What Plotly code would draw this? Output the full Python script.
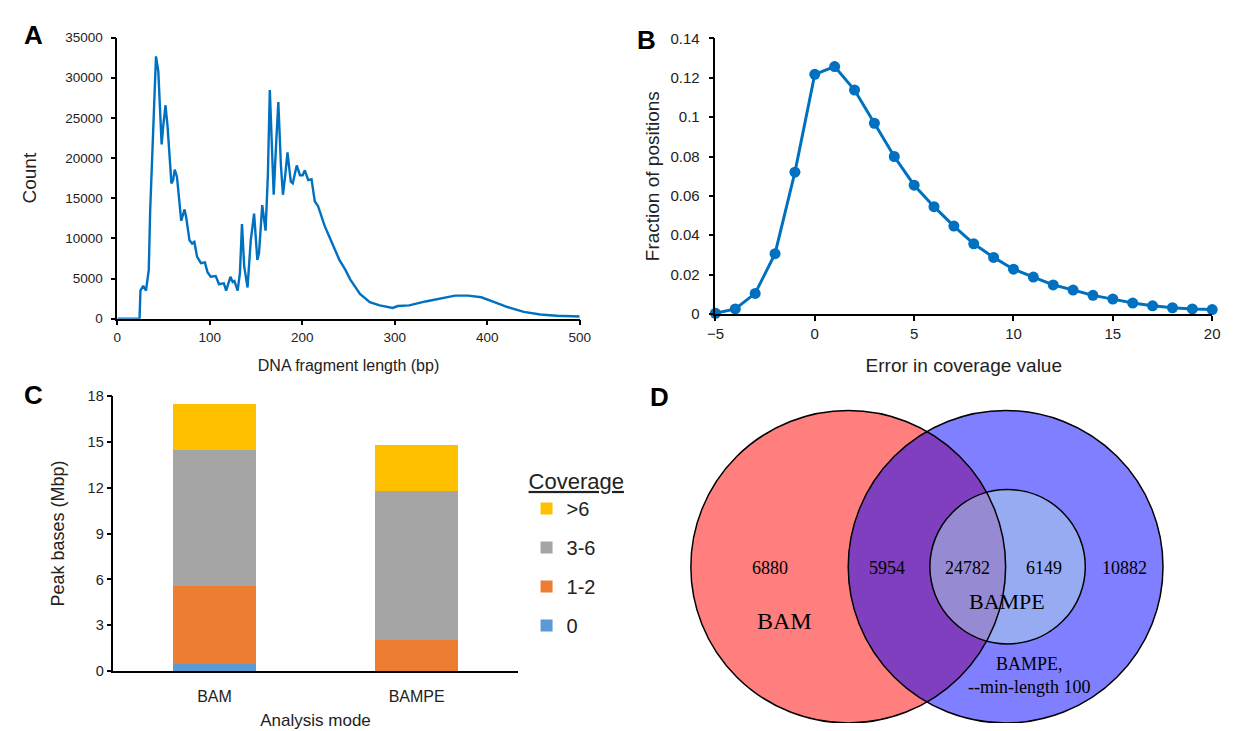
import plotly.graph_objects as go

W, H = 1235, 731          # browser window
OFF = 8                   # default <body> margin of the generated page
FW, FH = W - OFF, H - OFF # figure size so it ends at the window edges

# ---------------- Panel A: fragment length distribution ----------------
frag_len = [0, 10, 20, 24, 25, 28, 31, 34, 35.5, 37, 39, 41.8, 44.3, 47.9, 49.6, 52.1, 54.3,
            58.5, 60.3, 62.1, 64.5, 66.7, 69.1, 72.7, 74.5, 78, 80.9, 83.3, 86.2, 90.4, 94.7,
            97.5, 101, 106.4, 110, 113, 115.2, 117.7, 122.3, 124.8, 126.6, 130.1, 132.6, 134.8,
            137.2, 140.8, 144.3, 147.9, 151.4, 153.2, 156.7, 160.3, 162.8, 164.9, 166.3,
            169.1, 171.6, 174.1, 176.9, 179.1, 181.6, 184, 187.6, 189.7, 194, 197.5, 200.4,
            202.8, 206.4, 210, 213.5, 217.1, 220.6, 224.1, 229.4, 234.8, 240.1, 246.5, 251.8,
            262.4, 273, 283.7, 297.9, 303.2, 315.6, 333.3, 351, 365.2, 379.4, 393.6, 407.8,
            421.9, 439.6, 457.4, 475.2, 500]
frag_count = [0, 0, 0, 0, 3490, 4090, 3490, 6110, 13400, 18260, 26000, 32650, 30820, 21700,
              23940, 26570, 23940, 16850, 17250, 18550, 17650, 14620, 12190, 13610, 12600,
              9760, 9360, 9560, 7740, 6925, 7010, 5800, 5225, 5310, 4290, 4370, 4410, 3490,
              5225, 4580, 4700, 3490, 5710, 11790, 6520, 3890, 9760, 13090, 7330, 8140, 14130,
              10970, 17860, 28470, 23940, 15430, 21500, 26970, 19075, 15430, 17860, 20690,
              17050, 16850, 19075, 17860, 17860, 18470, 17250, 17370, 14620, 14010, 12800,
              11580, 10170, 8750, 7330, 6110, 4900, 3080, 2070, 1660, 1340, 1580, 1660, 2150,
              2550, 2880, 2880, 2670, 2070, 1460, 850, 530, 365, 280]

# ---------------- Panel B: error in coverage ----------------
err_value = list(range(-5, 21))
err_fraction = [0.0003, 0.0025, 0.0104, 0.0306, 0.072, 0.1218, 0.1257, 0.1138, 0.0969,
                0.080, 0.0654, 0.0545, 0.0446, 0.0356, 0.0287, 0.0227, 0.0187, 0.0147,
                0.0121, 0.0094, 0.0075, 0.0055, 0.0041, 0.0031, 0.0025, 0.0022]

# ---------------- Panel C: peak bases by coverage ----------------
modes = ["BAM", "BAMPE"]
coverage_names = ["0", "1-2", "3-6", ">6"]
cov_0 = [0.45, 0.02]
cov_1_2 = [5.15, 2.02]
cov_3_6 = [8.83, 9.73]
cov_gt6 = [3.06, 3.04]
coverage_colors = ["#5B9BD5", "#ED7D31", "#A5A5A5", "#FFC000"]

# ---------------- Panel D: Venn counts ----------------
venn_set_labels = ["BAM", "BAMPE", "BAMPE,<br>--min-length 100"]
venn_counts = [6880, 5954, 24782, 6149, 10882]

SANS = "Liberation Sans, Arial, sans-serif"
SERIF = "Liberation Serif, Times New Roman, serif"
TXT = "#222222"
BLUE = "#0070C0"


def px(x):
    return (x - OFF) / FW


def py(y):
    return 1 - (y - OFF) / FH


fig = go.Figure()

fig.add_trace(go.Scatter(x=frag_len, y=frag_count, mode="lines",
                         line=dict(color=BLUE, width=2.4), showlegend=False,
                         xaxis="x", yaxis="y"))

fig.add_trace(go.Scatter(x=err_value, y=err_fraction, mode="lines+markers",
                         line=dict(color=BLUE, width=3),
                         marker=dict(color=BLUE, size=11), cliponaxis=False,
                         showlegend=False, xaxis="x2", yaxis="y2"))

for i, (name, vals, col) in enumerate(zip(coverage_names, [cov_0, cov_1_2, cov_3_6, cov_gt6],
                                          coverage_colors)):
    fig.add_trace(go.Bar(x=modes, y=vals, name=name,
                         marker=dict(color=col, line=dict(width=0)),
                         legendgroup=name, legendrank=len(coverage_names) - i,
                         xaxis="x3", yaxis="y3"))


def ax(size, **kw):
    d = dict(showgrid=False, zeroline=False, showline=True, linecolor="black",
             linewidth=1.5, ticks="outside", ticklen=5, tickwidth=1.5,
             tickcolor="black", tickfont=dict(family=SANS, size=size, color=TXT))
    d.update(kw)
    return d


def tfont(size):
    return dict(family=SANS, size=size, color=TXT)


layout = dict(
    width=FW, height=FH, autosize=False,
    margin=dict(l=0, r=0, t=0, b=0),
    paper_bgcolor="white", plot_bgcolor="white",
    barmode="stack", bargap=0.586,
    font=dict(family=SANS, color=TXT),
    xaxis=ax(13.5, domain=[px(110), px(580)], range=[0, 500], dtick=100, anchor="y",
             title=dict(text="DNA fragment length (bp)", font=tfont(16), standoff=16)),
    yaxis=ax(13.5, domain=[py(317), py(29)], range=[0, 35000], dtick=5000, anchor="x",
             tickformat="d", ticklabelstandoff=5,
             title=dict(text="Count", font=tfont(19), standoff=24)),
    xaxis2=ax(15, domain=[px(718), px(1223)], range=[-5, 20], dtick=5, anchor="y2",
              title=dict(text="Error in coverage value", font=tfont(19), standoff=18)),
    yaxis2=ax(15, domain=[py(312), py(30)], range=[0, 0.14], dtick=0.02, anchor="x2",
              ticklabelstandoff=6,
              title=dict(text="Fraction of positions", font=tfont(19), standoff=6)),
    xaxis3=ax(16, domain=[px(106), px(517)], ticks="", anchor="y3", ticklabelstandoff=10,
              title=dict(text="Analysis mode", font=tfont(17), standoff=10)),
    yaxis3=ax(14.5, domain=[py(678), py(396)], range=[0, 18], dtick=3, anchor="x3",
              title=dict(text="Peak bases (Mbp)", font=tfont(18), standoff=18)),
    xaxis4=dict(domain=[px(640), 1], range=[640, W], visible=False, anchor="y4"),
    yaxis4=dict(domain=[0, py(380)], range=[H, 380], visible=False, anchor="x4"),
    legend=dict(x=px(526), y=py(462), xanchor="left", yanchor="top",
                title=dict(text="<u>Coverage</u>", font=tfont(22)),
                font=tfont(20), traceorder="grouped", tracegroupgap=10,
                bgcolor="rgba(0,0,0,0)"),
)
fig.update_layout(**layout)

# Panel letters
for letter, (lx, ly) in zip("ABCD", [(25, 26), (648, 32), (25, 395), (661, 397)]):
    fig.add_annotation(text=f"<b>{letter}</b>", x=px(lx), y=py(ly), xref="paper", yref="paper",
                       xanchor="center", yanchor="middle", showarrow=False,
                       font=dict(family=SANS, size=26, color="black"))

# Venn diagram geometry (layout, pixel-space axis x4/y4)
venn_circles = [(853, 571, 160, "rgba(255,0,0,0.5)"),
                (1013, 571, 160, "rgba(0,0,255,0.5)"),
                (1015, 571, 79, "rgba(173,216,230,0.5)")]
shapes = []
for cx, cy, r, fc in venn_circles:
    shapes.append(dict(type="circle", xref="x4", yref="y4", x0=cx - r, x1=cx + r,
                       y0=cy - r, y1=cy + r, fillcolor=fc, line=dict(width=0)))
for cx, cy, r, fc in venn_circles:
    shapes.append(dict(type="circle", xref="x4", yref="y4", x0=cx - r, x1=cx + r,
                       y0=cy - r, y1=cy + r, fillcolor="rgba(0,0,0,0)",
                       line=dict(color="black", width=1.5)))
fig.update_layout(shapes=shapes)

count_pos = [(773, 572), (892, 572), (974, 572), (1052, 572), (1134, 572)]
for (tx, ty), c in zip(count_pos, venn_counts):
    fig.add_annotation(text=str(c), x=tx, y=ty, xref="x4", yref="y4", showarrow=False,
                       xanchor="center", yanchor="middle",
                       font=dict(family=SERIF, size=18, color="black"))
label_pos = [(788, 627, 24), (1014, 607, 22), (1037, 682, 18)]
for (tx, ty, fs), lab in zip(label_pos, venn_set_labels):
    fig.add_annotation(text=lab, x=tx, y=ty, xref="x4", yref="y4", showarrow=False,
                       xanchor="center", yanchor="middle",
                       font=dict(family=SERIF, size=fs, color="black"))

fig.write_html("out.html")
